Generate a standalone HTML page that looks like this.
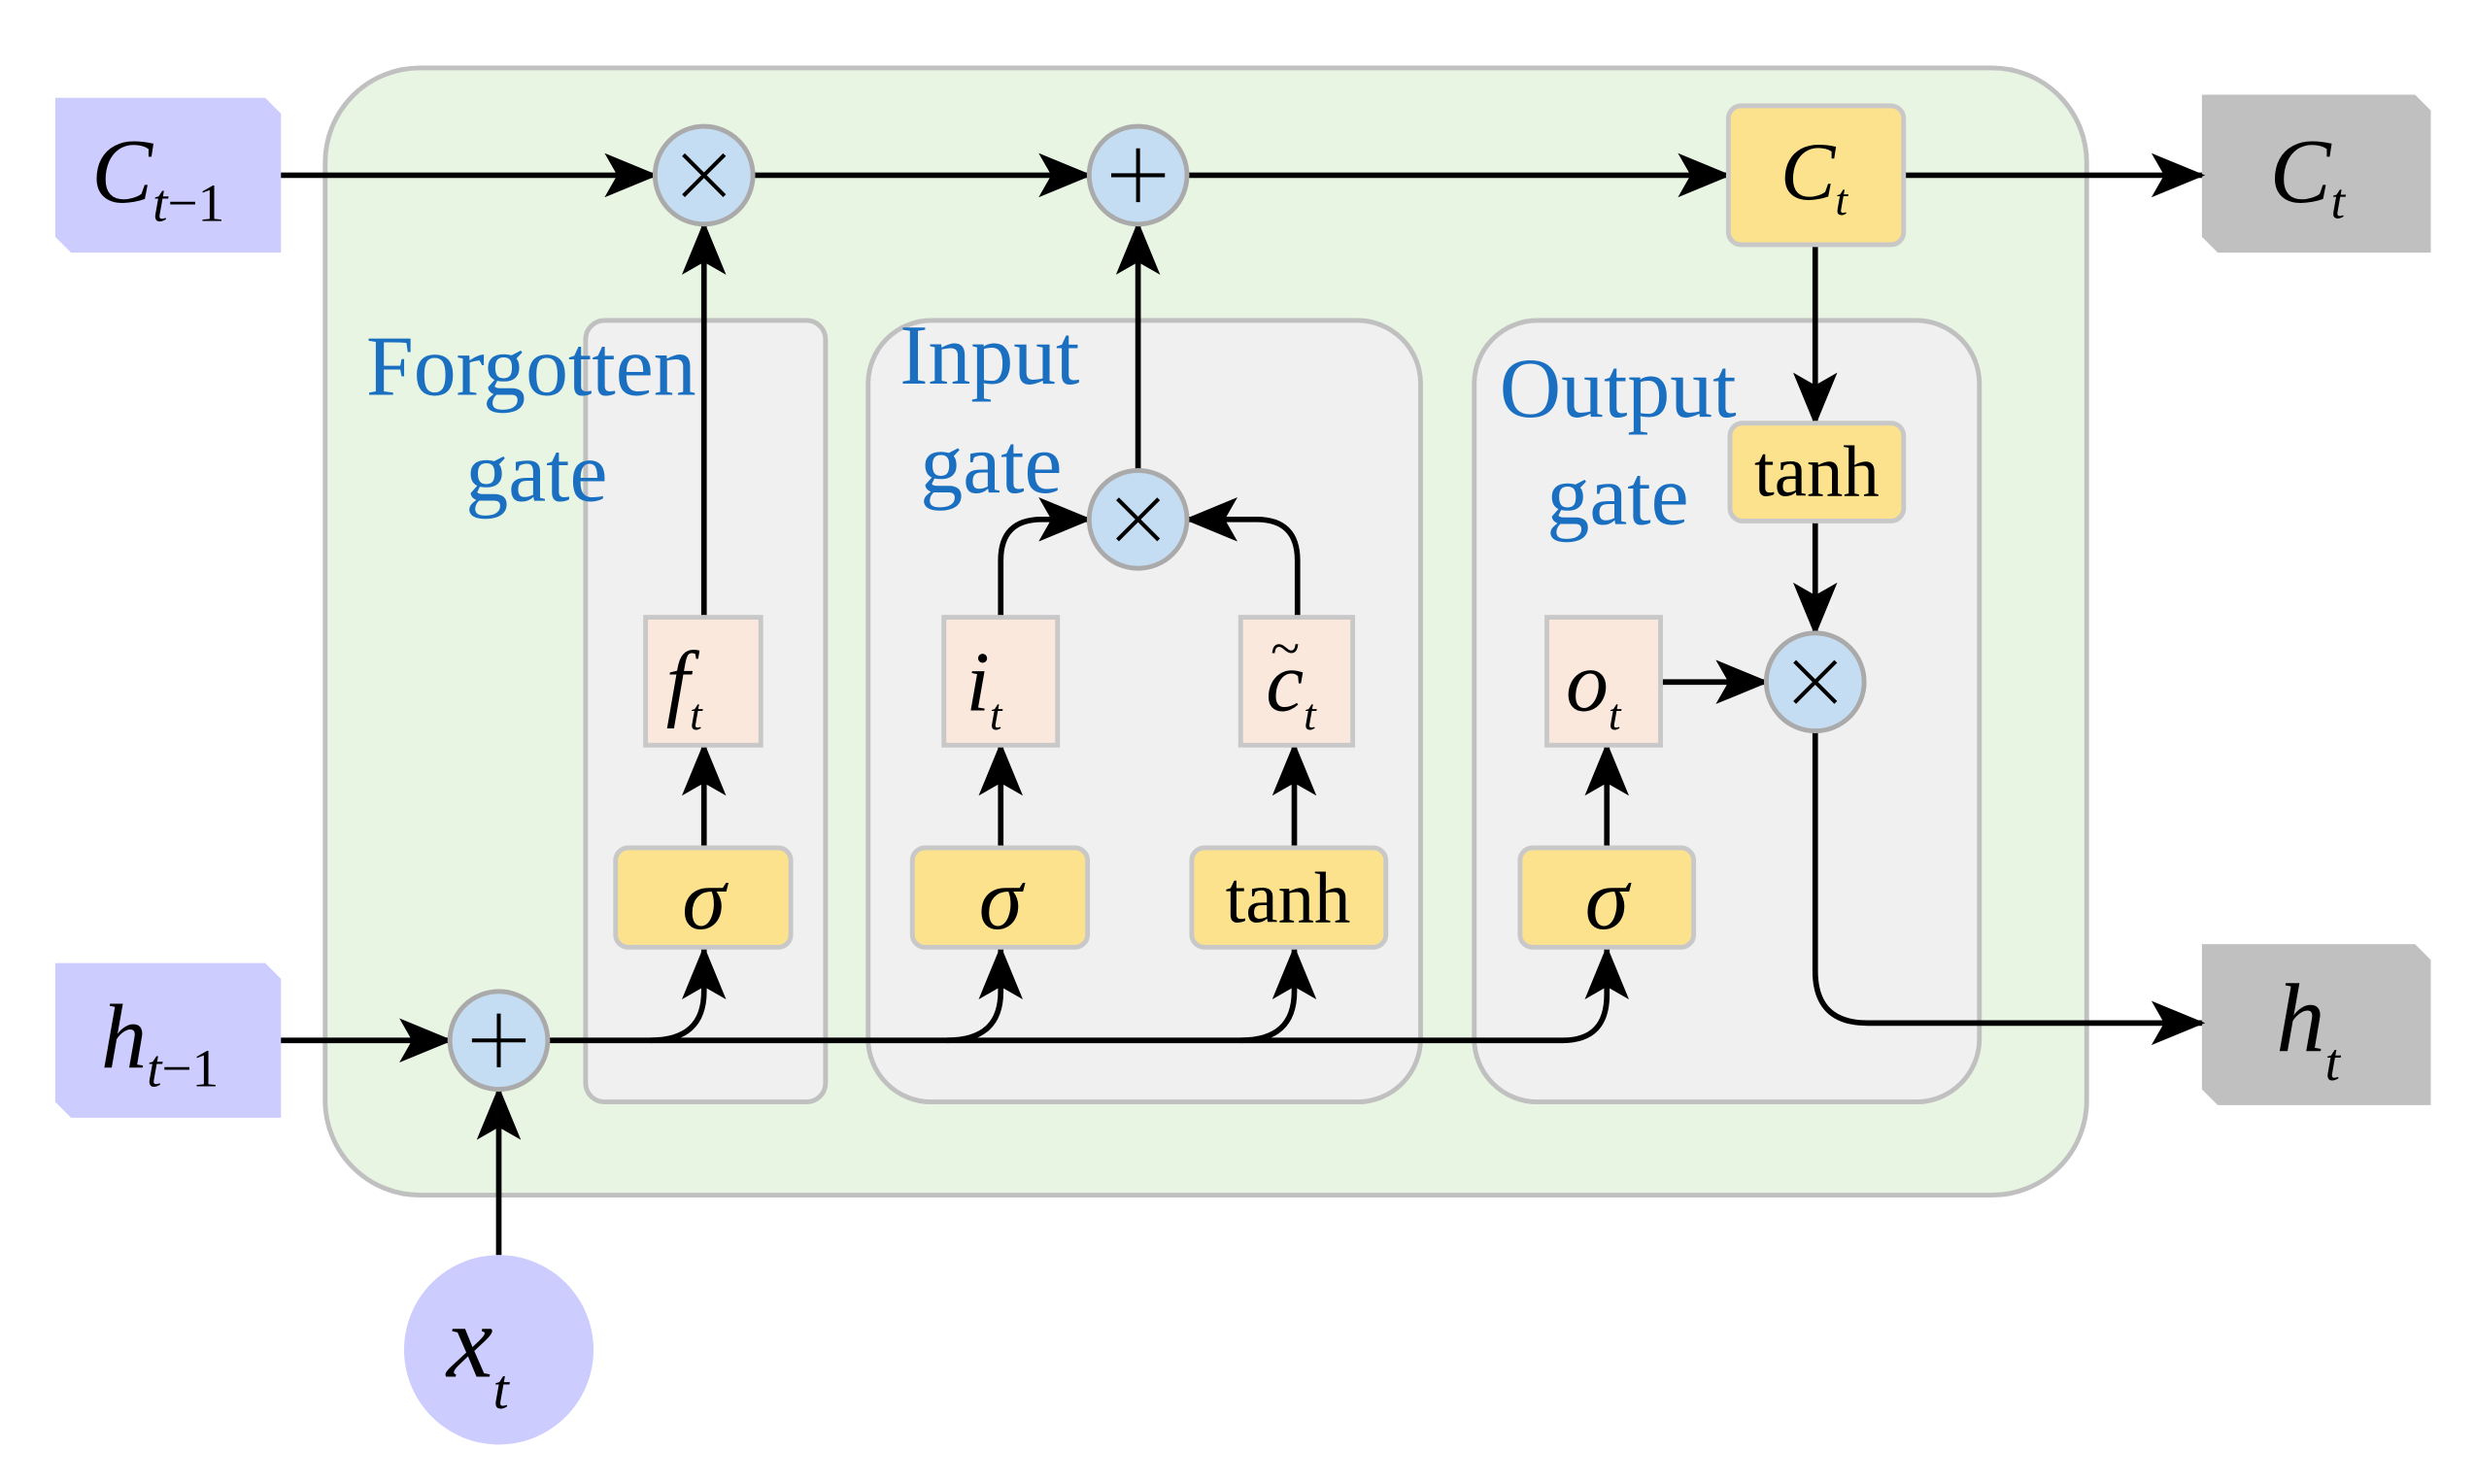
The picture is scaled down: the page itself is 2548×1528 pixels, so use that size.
<!DOCTYPE html>
<html><head><meta charset="utf-8"><style>
html,body{margin:0;padding:0;background:#fff;}
svg{display:block;}
text{font-family:"Liberation Serif",serif;}
.lab{fill:#1a6fc0;font-size:54px;}
.it{font-style:italic;}
</style></head><body>
<svg width="2548" height="1528" viewBox="0 0 1568 940" preserveAspectRatio="none" xmlns="http://www.w3.org/2000/svg">
<defs>
<marker id="a" markerUnits="userSpaceOnUse" markerWidth="34" markerHeight="28" refX="32" refY="14" orient="auto">
<path d="M0,0 L34,14 L0,28 L8,14 Z" fill="#000"/>
</marker>
</defs>
<rect x="206" y="43" width="1116" height="714" rx="60" fill="#e8f5e3" stroke="#c0c0c0" stroke-width="3"/>
<rect x="371" y="203" width="152" height="495" rx="12" fill="#f0f0f0" stroke="#c0c0c0" stroke-width="3"/>
<rect x="550" y="203" width="350" height="495" rx="40" fill="#f0f0f0" stroke="#c0c0c0" stroke-width="3"/>
<rect x="934" y="203" width="320" height="495" rx="40" fill="#f0f0f0" stroke="#c0c0c0" stroke-width="3"/>

<polygon points="35,62 168,62 178,72 178,160 45,160 35,150" fill="#ccccff"/>
<polygon points="35,610 168,610 178,620 178,708 45,708 35,698" fill="#ccccff"/>
<polygon points="1395,60 1530,60 1540,70 1540,160 1405,160 1395,150" fill="#c0c0c0"/>
<polygon points="1395,598 1530,598 1540,608 1540,700 1405,700 1395,690" fill="#c0c0c0"/>

<g stroke="#000" stroke-width="3.5" fill="none">
<line x1="178" y1="111" x2="415" y2="111" marker-end="url(#a)"/>
<line x1="477" y1="111" x2="690" y2="111" marker-end="url(#a)"/>
<line x1="752" y1="111" x2="1095" y2="111" marker-end="url(#a)"/>
<line x1="1206" y1="111" x2="1395" y2="111" marker-end="url(#a)"/>
<line x1="446" y1="391" x2="446" y2="142" marker-end="url(#a)"/>
<line x1="446" y1="537" x2="446" y2="472" marker-end="url(#a)"/>
<line x1="634" y1="537" x2="634" y2="472" marker-end="url(#a)"/>
<line x1="820" y1="537" x2="820" y2="472" marker-end="url(#a)"/>
<line x1="1018" y1="537" x2="1018" y2="472" marker-end="url(#a)"/>
<line x1="178" y1="659" x2="285" y2="659" marker-end="url(#a)"/>
<line x1="316" y1="795" x2="316" y2="690" marker-end="url(#a)"/>
<path d="M347,659 L990,659 Q1018,659 1018,630 L1018,601" marker-end="url(#a)"/>
<path d="M412,659 Q446,659 446,628 L446,601" marker-end="url(#a)"/>
<path d="M600,659 Q634,659 634,628 L634,601" marker-end="url(#a)"/>
<path d="M786,659 Q820,659 820,628 L820,601" marker-end="url(#a)"/>
<path d="M634,391 L634,355 Q634,329 660,329 L690,329" marker-end="url(#a)"/>
<path d="M822,391 L822,355 Q822,329 796,329 L752,329" marker-end="url(#a)"/>
<line x1="721" y1="298" x2="721" y2="142" marker-end="url(#a)"/>
<line x1="1150" y1="155" x2="1150" y2="268" marker-end="url(#a)"/>
<line x1="1150" y1="330" x2="1150" y2="401" marker-end="url(#a)"/>
<line x1="1052" y1="432" x2="1119" y2="432" marker-end="url(#a)"/>
<path d="M1150,463 L1150,615 Q1150,648 1183,648 L1395,648" marker-end="url(#a)"/>
</g>

<g fill="#c5ddf3" stroke="#aaa" stroke-width="3">
<circle cx="446" cy="111" r="31"/><circle cx="721" cy="111" r="31"/>
<circle cx="721" cy="329" r="31"/><circle cx="1150" cy="432" r="31"/>
<circle cx="316" cy="659" r="31"/>
</g>
<g stroke="#000" stroke-width="2.5">
<path d="M433,98 L459,124 M459,98 L433,124"/>
<path d="M708,316 L734,342 M734,316 L708,342"/>
<path d="M1137,419 L1163,445 M1163,419 L1137,445"/>
<path d="M721,94 V128 M704,111 H738"/>
<path d="M316,642 V676 M299,659 H333"/>
</g>
<circle cx="316" cy="855" r="60" fill="#ccccff"/>

<g fill="#fde28e" stroke="#c8c8c8" stroke-width="3">
<rect x="1095" y="67" width="111" height="88" rx="8"/>
<rect x="1096" y="268" width="110" height="62" rx="8"/>
<rect x="390" y="537" width="111" height="63" rx="8"/>
<rect x="578" y="537" width="111" height="63" rx="8"/>
<rect x="755" y="537" width="123" height="63" rx="8"/>
<rect x="963" y="537" width="110" height="63" rx="8"/>
</g>
<g fill="#fbe8dd" stroke="#c8c8c8" stroke-width="3">
<rect x="409" y="391" width="73" height="81"/>
<rect x="598" y="391" width="72" height="81"/>
<rect x="786" y="391" width="71" height="81"/>
<rect x="980" y="391" width="72" height="81"/>
</g>

<text class="lab" x="232" y="250">Forgotten</text>
<text class="lab" x="295" y="317">gate</text>
<text class="lab" x="570" y="243">Input</text>
<text class="lab" x="583" y="312">gate</text>
<text class="lab" x="950" y="264">Output</text>
<text class="lab" x="980" y="332">gate</text>

<g font-size="58" class="it">
<text x="58" y="128" class="it">C<tspan font-size="34" dy="12">t</tspan><tspan font-size="34" font-style="normal">−1</tspan></text>
<text x="64" y="676" class="it">h<tspan font-size="34" dy="12">t</tspan><tspan font-size="34" font-style="normal">−1</tspan></text>
<text x="1438" y="128" class="it">C<tspan font-size="32" dy="10">t</tspan></text>
<text x="1442" y="666" class="it" font-size="62">h<tspan font-size="34" dy="18">t</tspan></text>
<text x="1128" y="126" class="it" font-size="52">C<tspan font-size="28" dy="10">t</tspan></text>
<text x="283" y="872" class="it" font-size="66">x<tspan font-size="36" dy="20">t</tspan></text>
<text x="422" y="450" class="it" font-size="54">f<tspan font-size="28" dy="12">t</tspan></text>
<text x="612" y="450" class="it" font-size="54">i<tspan font-size="28" dy="12">t</tspan></text>
<text x="802" y="450" class="it" font-size="54">c<tspan font-size="28" dy="12">t</tspan></text>
<text x="805" y="422" font-size="34" font-style="normal">~</text>
<text x="992" y="450" class="it" font-size="54">o<tspan font-size="28" dy="12">t</tspan></text>
<text x="446" y="588" text-anchor="middle" font-size="56">σ</text>
<text x="634" y="588" text-anchor="middle" font-size="56">σ</text>
<text x="1018" y="588" text-anchor="middle" font-size="56">σ</text>
</g>
<text x="816" y="584" text-anchor="middle" font-size="46">tanh</text>
<text x="1151" y="314" text-anchor="middle" font-size="46">tanh</text>
</svg>
</body></html>
